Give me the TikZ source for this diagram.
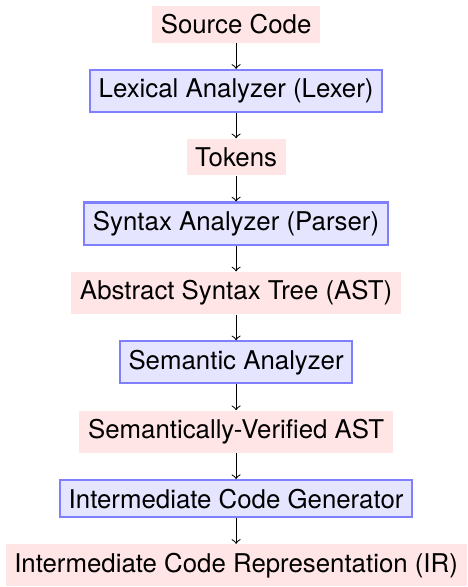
\documentclass[tikz,border=0pt]{standalone}
\usepackage{fontspec}
\setmainfont{TeX Gyre Heros}
\usetikzlibrary{positioning}
\begin{document}
\begin{tikzpicture}[
			node distance=0.35cm,
			data/.style={rectangle,fill=red!10},
			process/.style={rectangle,draw=blue!50,fill=blue!10,thick},
			every edge/.style={draw,->}
		]
		\node[data] (src) {Source Code};
		\node[process,below=of src] (lexer) {Lexical Analyzer (Lexer)};
		\node[data,below=of lexer] (tokens) {Tokens};
		\node[process,below=of tokens] (parser) {Syntax Analyzer (Parser)};
		\node[data,below=of parser] (ast) {Abstract Syntax Tree (AST)};
		\node[process,below=of ast] (sema) {Semantic Analyzer};
		\node[data,below=of sema] (vast) {Semantically-Verified AST};
		\node[process,below=of vast] (irgen) {Intermediate Code Generator};
		\node[data,below=of irgen] (ir) {Intermediate Code Representation (IR)};
		\path (src) edge (lexer)
			(lexer) edge (tokens)
			(tokens) edge (parser)
			(parser) edge (ast)
			(ast) edge (sema)
			(sema) edge (vast)
			(vast) edge (irgen)
			(irgen) edge (ir);
		\path ([xshift=-2pt]ir.south west) rectangle ([yshift=2pt]ir.east |- src.north);
	\end{tikzpicture}
\end{document}
